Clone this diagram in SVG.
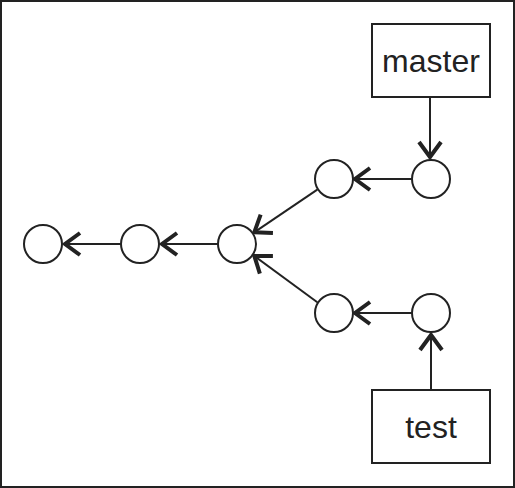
<svg xmlns="http://www.w3.org/2000/svg" width="515" height="488" viewBox="0 0 515 488">
<style>
.c{fill:#fff;stroke:#222;stroke-width:2}
.b{fill:#fff;stroke:#222;stroke-width:2}
.e{stroke:#222;stroke-width:2;fill:none;marker-end:url(#ah)}
.t{font-family:"Liberation Sans",Arial,sans-serif;font-size:32px;fill:#222;text-anchor:middle}
</style>
<defs>
<marker id="ah" markerUnits="userSpaceOnUse" viewBox="-20 -14 24 28" markerWidth="24" markerHeight="28" refX="0" refY="0" orient="auto" overflow="visible">
<path d="M-17,-11 L-2,0 L-17,11" fill="none" stroke="#222" stroke-width="4" stroke-linejoin="miter"/>
</marker>
</defs>
<rect x="1" y="1" width="513" height="486" fill="#fff" stroke="#222" stroke-width="2"/>
<g id="connectors">
<line class="e" x1="430" y1="97" x2="430" y2="159"/>
<line class="e" x1="412" y1="179" x2="353" y2="179"/>
<line class="e" x1="317.3" y1="189.7" x2="252.7" y2="233.3"/>
<line class="e" x1="317.3" y1="302.3" x2="252.7" y2="254.7"/>
<line class="e" x1="412" y1="313" x2="353" y2="313"/>
<line class="e" x1="431" y1="389" x2="431" y2="333"/>
<line class="e" x1="218" y1="244" x2="160" y2="244"/>
<line class="e" x1="121" y1="244" x2="63" y2="244"/>
</g>
<g id="c1"><circle class="c" cx="43" cy="244" r="19"/></g>
<g id="c2"><circle class="c" cx="140" cy="244" r="19"/></g>
<g id="c3"><circle class="c" cx="237" cy="244" r="19"/></g>
<g id="c4"><circle class="c" cx="334" cy="179" r="19"/></g>
<g id="c5"><circle class="c" cx="431" cy="179" r="19"/></g>
<g id="c6"><circle class="c" cx="334" cy="313" r="19"/></g>
<g id="c7"><circle class="c" cx="431" cy="313" r="19"/></g>
<g id="master"><rect class="b" x="372" y="24" width="118" height="73"/><text class="t" x="431" y="72">master</text></g>
<g id="test"><rect class="b" x="372" y="390" width="118" height="73"/><text class="t" x="431" y="438">test</text></g>
</svg>
